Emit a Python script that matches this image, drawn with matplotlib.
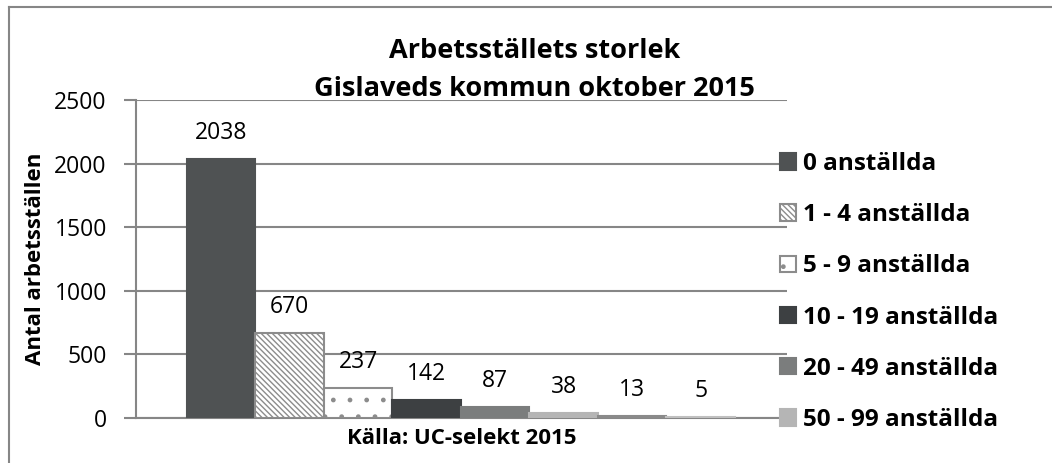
import numpy as np
import matplotlib.pyplot as plt
from matplotlib.lines import Line2D

plt.rcParams['font.family'] = ['Open Sans', 'DejaVu Sans']
plt.rcParams['hatch.linewidth'] = 1.0

# data
categories = ['0 anställda', '1 - 4 anställda', '5 - 9 anställda', '10 - 19 anställda',
              '20 - 49 anställda', '50 - 99 anställda', '100 - 199 anställda', '200- anställda']
values = [2038, 670, 237, 142, 87, 38, 13, 5]
yticks = [0, 500, 1000, 1500, 2000, 2500]

colors = ['#4f5253', 'white', 'white', '#3d4042', '#7b7d7d', '#b5b5b5', '#8a8a8a', '#c0c0c0']
edges = ['#4f5253', '#8c8c8c', '#8c8c8c', '#3d4042', '#7b7d7d', '#b5b5b5', '#8a8a8a', '#c0c0c0']
hatches = ['', '\\\\\\\\\\\\', '.', '', '', '', '', '']

fig = plt.figure(figsize=(10.52, 4.63), dpi=100)
ax = fig.add_axes([136/1052, 1-418/463, (787-136)/1052, (418-100)/463])

x = np.arange(len(values))
bars = []
for i in range(len(values)):
    b = ax.bar(x[i], values[i], width=1.0, color=colors[i], edgecolor=edges[i],
               hatch=hatches[i], linewidth=1.5, label=categories[i], zorder=3)
    ax.bar_label(b, labels=[str(values[i])], padding=10, fontsize=16.5, color='black')
    bars.append(b)

ax.set_xlim(-0.5-0.74, len(values)-0.5+0.76)
ax.set_ylim(0, 2500)
ax.set_yticks(yticks)
ax.set_xticks([])
ax.yaxis.grid(True, color='#868686', linewidth=1.5, zorder=0)
ax.tick_params(axis='y', length=9, width=1.5, color='#868686', labelsize=16.5, pad=12)
for s in ['top', 'right']:
    ax.spines[s].set_visible(False)
for s in ['left', 'bottom']:
    ax.spines[s].set_color('#868686')
    ax.spines[s].set_linewidth(1.5)

ax.set_ylabel('Antal arbetsställen', fontsize=16, fontweight='bold', labelpad=6)
ax.set_xlabel('Källa: UC-selekt 2015', fontsize=16, fontweight='bold', labelpad=7)

fig.text(0.508, 1-70/463, 'Arbetsställets storlek\nGislaveds kommun oktober 2015',
         ha='center', va='center', fontsize=19.5, fontweight='bold', linespacing=1.55)

leg = fig.legend(handles=[b[0] for b in bars[:6]], labels=categories[:6],
                 loc='upper left', bbox_to_anchor=(758/1052, 1-130/463),
                 frameon=False, prop={'weight': 'bold', 'size': 17.5},
                 handlelength=0.66, handleheight=0.66, handletextpad=0.3, labelspacing=1.12)

# chart border
fig.add_artist(Line2D([9/1052, 9/1052], [0, 1-7/463], color='#868686', lw=1.5))
fig.add_artist(Line2D([9/1052, 1], [1-7/463, 1-7/463], color='#868686', lw=1.5))

fig.savefig('out.png', dpi=100)
